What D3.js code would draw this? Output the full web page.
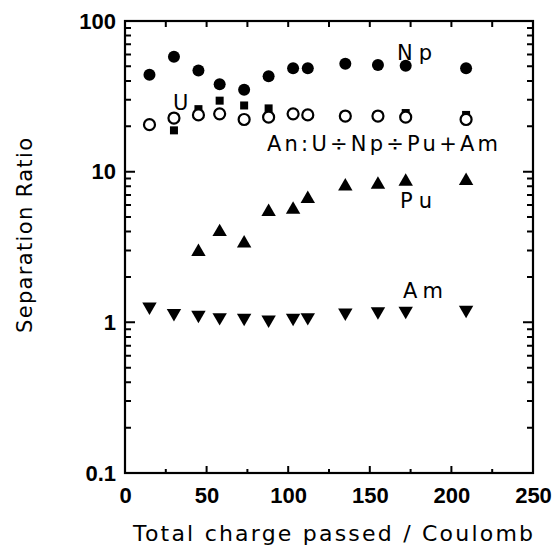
<!DOCTYPE html>
<html>
<head>
<meta charset="utf-8">
<script src="https://cdn.jsdelivr.net/npm/d3@7"></script>
<style>
  body { margin: 0; background: #fff; }
  text { font-family: "DejaVu Sans", sans-serif; fill: #000; }
  .num { font-family: "Liberation Sans", Arial, sans-serif; }
</style>
</head>
<body>
<svg id="chart" width="556" height="548"></svg>
<script>
// separation ratio vs total charge, log scale

var charge = [15, 30, 45, 58, 73, 88, 103, 112, 135, 155, 172, 209];
var npRatio = [44, 58, 47, 38, 35, 43, 48.5, 48.5, 52, 51, 50.5, 48.5];
var anRatio = [20.5, 22.7, 23.8, 24.2, 22.2, 23, 24.2, 23.8, 23.4, 23.4, 23, 22.2];
var amRatio = [1.27, 1.15, 1.12, 1.08, 1.07, 1.04, 1.07, 1.08, 1.16, 1.18, 1.19, 1.21];

var uCharge = [30, 45, 58, 73, 88, 172, 209];
var uRatio = [18.8, 26, 29.6, 27.5, 26.3, 24.5, 23.8];

var puCharge = [45, 58, 73, 88, 103, 112, 135, 155, 172, 209];
var puRatio = [2.94, 3.98, 3.34, 5.41, 5.6, 6.6, 8.0, 8.2, 8.6, 8.7];

var xTicks = [0, 50, 100, 150, 200, 250];
var yTicks = [0.1, 1, 10, 100];
var yTickLabels = ["0.1", "1", "10", "100"];

var svg = d3.select("#chart");

var x = d3.scaleLinear().domain([0, 250]).range([125, 533]);
var y = d3.scaleLog().domain([0.1, 100]).range([473, 21]);

// minor log ticks 2..9 in every decade
var yMinor = [];
[0.1, 1, 10].forEach(function(d) {
  for (var i = 2; i < 10; i++) yMinor.push(d * i);
});
var xMinor = [25, 75, 125, 175, 225];

// frame
svg.append("rect")
  .attr("x", x(0))
  .attr("y", y(100))
  .attr("width", x(250) - x(0))
  .attr("height", y(0.1) - y(100))
  .attr("fill", "none")
  .attr("stroke", "#000")
  .attr("stroke-width", 2.2);

function noLine(g) {
  g.select(".domain").remove();
  g.selectAll("line").remove();
}

// tick labels
svg.append("g")
  .attr("transform", "translate(0," + y(0.1) + ")")
  .call(d3.axisBottom(x).tickValues(xTicks).tickSize(0).tickPadding(14).tickFormat(d3.format("d")))
  .call(noLine)
  .selectAll("text")
  .attr("class", "num")
  .attr("font-size", 22)
  .attr("font-weight", "bold")
  .attr("dy", "0.71em");

svg.append("g")
  .attr("transform", "translate(" + x(0) + ",0)")
  .call(d3.axisLeft(y).tickValues(yTicks).tickSize(0).tickPadding(9)
    .tickFormat(function(d, i) { return yTickLabels[i]; }))
  .call(noLine)
  .selectAll("text")
  .attr("class", "num")
  .attr("font-size", 22)
  .attr("font-weight", "bold");

// axis titles
svg.append("text")
  .attr("x", 133)
  .attr("y", 541)
  .attr("font-size", 22)
  .attr("textLength", 400)
  .attr("lengthAdjust", "spacing")
  .text("Total charge passed / Coulomb");

svg.append("text")
  .attr("transform", "translate(32,333) rotate(-90)")
  .attr("font-size", 21)
  .attr("textLength", 195)
  .attr("lengthAdjust", "spacing")
  .text("Separation Ratio");

// U squares
svg.selectAll(".u").data(uCharge).enter().append("rect")
  .attr("class", "u")
  .attr("x", function(d) { return x(d) - 4; })
  .attr("y", function(d, i) { return y(uRatio[i]) - 4; })
  .attr("width", 8)
  .attr("height", 8)
  .attr("fill", "#000");

// An open circles
svg.selectAll(".an").data(charge).enter().append("circle")
  .attr("class", "an")
  .attr("r", 5.5)
  .attr("cx", function(d) { return x(d); })
  .attr("cy", function(d, i) { return y(anRatio[i]); })
  .attr("fill", "#fff")
  .attr("stroke", "#000")
  .attr("stroke-width", 2.2);

// Np filled circles
svg.selectAll(".np").data(charge).enter().append("circle")
  .attr("class", "np")
  .attr("r", 6)
  .attr("cx", function(d) { return x(d); })
  .attr("cy", function(d, i) { return y(npRatio[i]); })
  .attr("fill", "#000");

var tri = d3.symbol().type(d3.symbolTriangle).size(90);

// Pu up triangles
svg.selectAll(".pu").data(puCharge).enter().append("path")
  .attr("class", "pu")
  .attr("d", tri)
  .attr("transform", function(d, i) { return "translate(" + x(d) + "," + y(puRatio[i]) + ")"; })
  .attr("fill", "#000");

// Am down triangles
svg.selectAll(".am").data(charge).enter().append("path")
  .attr("class", "am")
  .attr("d", tri)
  .attr("transform", function(d, i) { return "translate(" + x(d) + "," + y(amRatio[i]) + ") rotate(180)"; })
  .attr("fill", "#000");

// series labels
var labels = [
  { t: "Np", x: 397, y: 60, w: 35 },
  { t: "U", x: 173, y: 110, w: 15 },
  { t: "An:U÷Np÷Pu+Am", x: 267, y: 151, w: 231 },
  { t: "Pu", x: 400, y: 208, w: 32 },
  { t: "Am", x: 403, y: 298, w: 40 }
];
svg.selectAll(".lab").data(labels).enter().append("text")
  .attr("class", "lab")
  .attr("x", function(d) { return d.x; })
  .attr("y", function(d) { return d.y; })
  .attr("font-size", 21)
  .attr("textLength", function(d) { return d.w; })
  .attr("lengthAdjust", "spacing")
  .text(function(d) { return d.t; });

// tick marks, all pointing inward, drawn last as one path
var tp = d3.path();
yTicks.forEach(function(d) {
  tp.moveTo(x(0), y(d)); tp.lineTo(x(0) + 10, y(d));
  tp.moveTo(x(250), y(d)); tp.lineTo(x(250) - 10, y(d));
});
yMinor.forEach(function(d) {
  tp.moveTo(x(0), y(d)); tp.lineTo(x(0) + 6, y(d));
  tp.moveTo(x(250), y(d)); tp.lineTo(x(250) - 6, y(d));
});
xTicks.forEach(function(d) {
  tp.moveTo(x(d), y(0.1)); tp.lineTo(x(d), y(0.1) - 7);
  tp.moveTo(x(d), y(100)); tp.lineTo(x(d), y(100) + 6);
});
xMinor.forEach(function(d) {
  tp.moveTo(x(d), y(0.1)); tp.lineTo(x(d), y(0.1) - 4);
  tp.moveTo(x(d), y(100)); tp.lineTo(x(d), y(100) + 6);
});
svg.append("path")
  .attr("d", tp.toString())
  .attr("fill", "none")
  .attr("stroke", "#000")
  .attr("stroke-width", 2);
</script>
</body>
</html>
